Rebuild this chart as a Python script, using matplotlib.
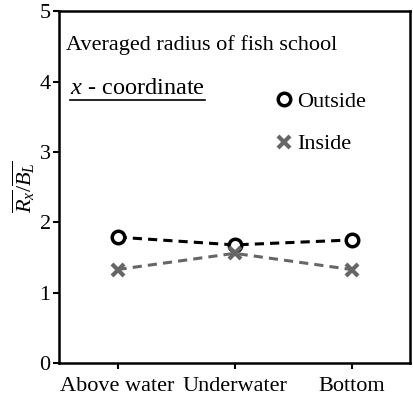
import matplotlib
matplotlib.use('Agg')
import matplotlib.pyplot as plt
from matplotlib.lines import Line2D

plt.rcParams['font.family'] = ['Liberation Serif', 'DejaVu Serif']
plt.rcParams['mathtext.fontset'] = 'custom'
plt.rcParams['mathtext.rm'] = 'Liberation Serif'
plt.rcParams['mathtext.it'] = 'Liberation Serif:italic'

categories = ['Above water', 'Underwater', 'Bottom']
outside = [1.79, 1.68, 1.75]
inside = [1.33, 1.56, 1.33]

fig = plt.figure(figsize=(4.13, 4.03), dpi=100)
ax = fig.add_axes([0.143, 0.099, 0.85, 0.873])

xs = list(range(len(categories)))
ax.plot(xs, outside, ls='--', color='black', lw=2.2, marker='o', ms=9,
        mfc='white', mec='black', mew=2.5, label='Outside', dashes=(3, 2))
ax.plot(xs, inside, ls='--', color='#666666', lw=2.2, marker='x', ms=9,
        mew=3, label='Inside', dashes=(3, 2))

ax.set_xlim(-0.5, 2.5)
ax.set_ylim(0, 5)
ax.set_yticks([0, 1, 2, 3, 4, 5])
ax.set_xticks(xs)
ax.set_xticklabels(categories)
ax.tick_params(labelsize=16, width=1.5, length=4, direction='out', pad=2)
ax.tick_params(axis='x', pad=6)
for s in ax.spines.values():
    s.set_linewidth(1.8)

ax.set_ylabel(r'$\overline{R_x}/\overline{B_L}$', fontsize=16, labelpad=2)

ax.text(0.02, 0.905, 'Averaged radius of fish school', transform=ax.transAxes,
        fontsize=16, va='center')
ax.text(0.03, 0.78, r'$x$ - coordinate', transform=ax.transAxes,
        fontsize=17.5, va='center')
ax.add_line(Line2D([0.03, 0.415], [0.748, 0.748], transform=ax.transAxes,
                   color='black', lw=1.2))

leg = ax.legend(loc='upper left', bbox_to_anchor=(0.565, 0.83), frameon=False,
                fontsize=16, handlelength=0.6, handletextpad=0.3,
                labelspacing=1.0)
for h in leg.legend_handles:
    h.set_linestyle('none')

fig.savefig('out.png', dpi=100)
